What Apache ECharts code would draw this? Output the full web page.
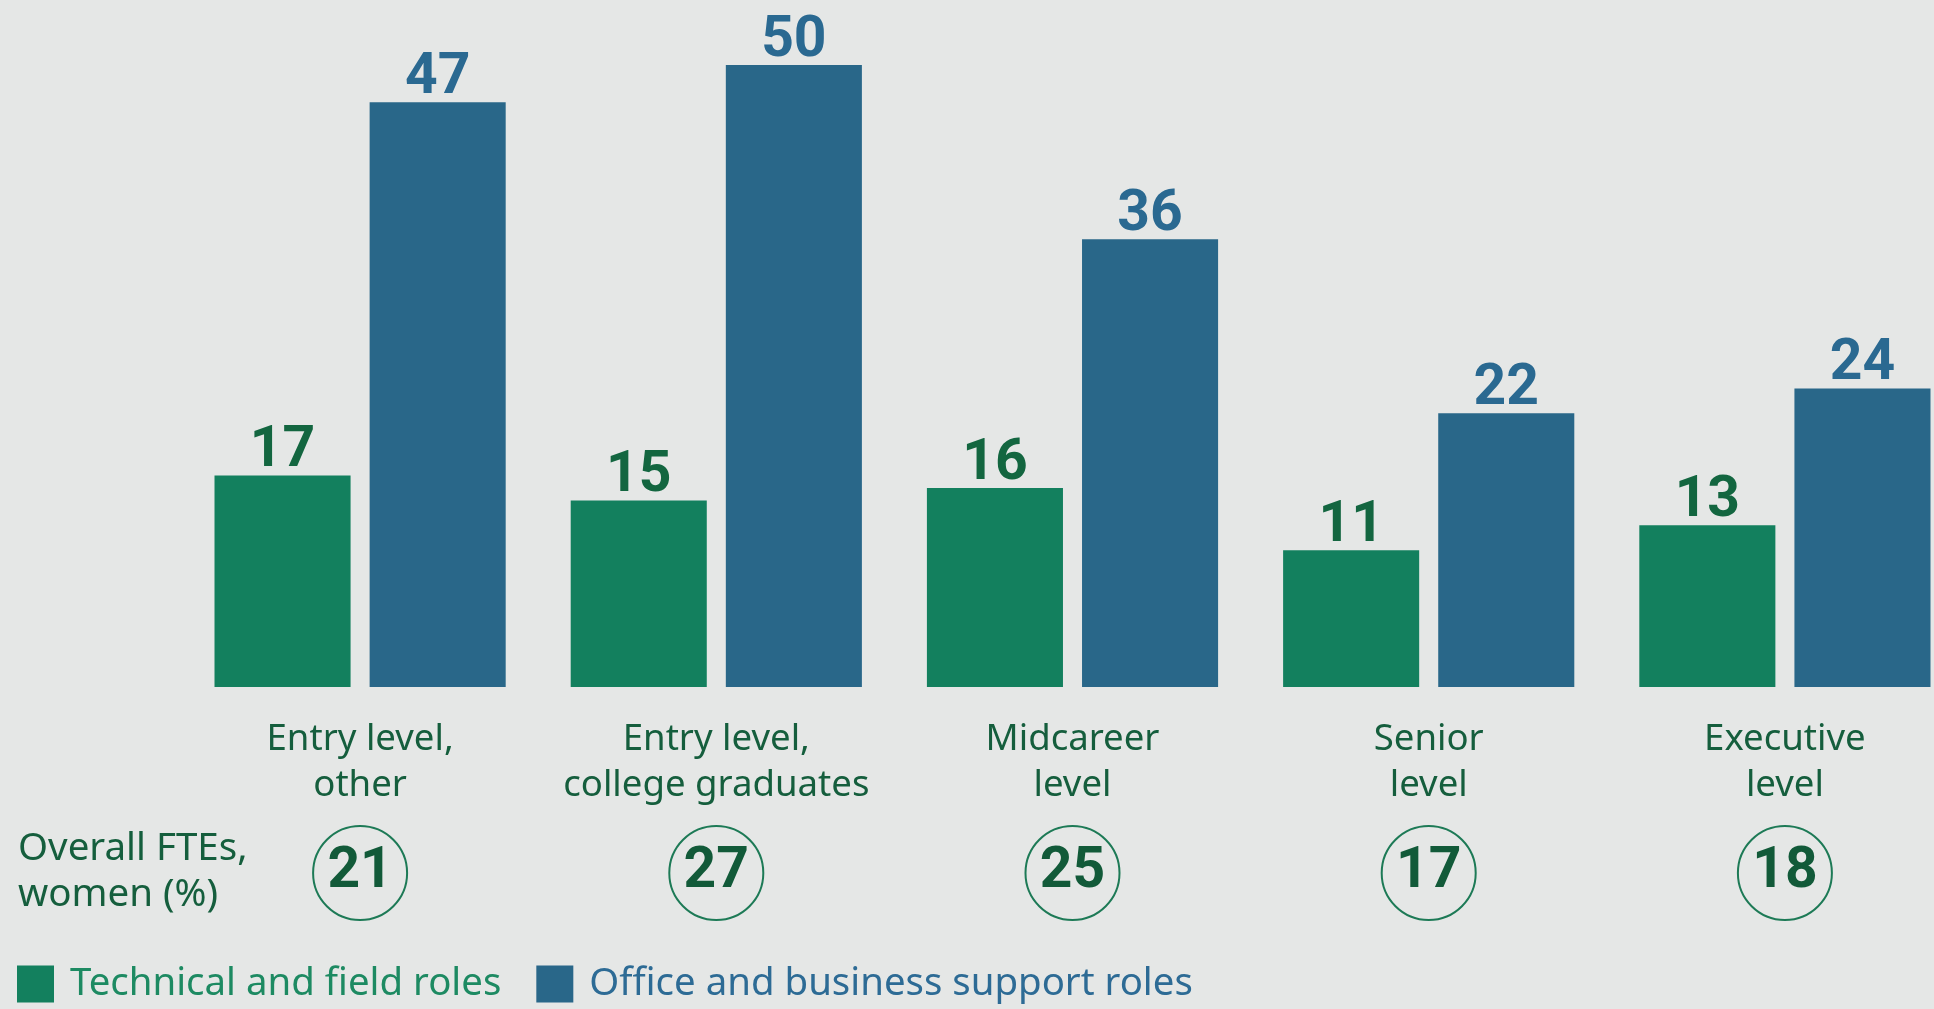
<!DOCTYPE html>
<html>
<head>
<meta charset="utf-8">
<script src="https://cdn.jsdelivr.net/npm/echarts@6/dist/echarts.min.js"></script>
<style>
  html, body { margin: 0; padding: 0; background: #e5e7e6; }
  #chart { width: 1934px; height: 1009px; }
</style>
</head>
<body>
<div id="chart"></div>
<script>
  // levels along the bottom
  const categories = [
    'Entry level,\nother',
    'Entry level,\ncollege graduates',
    'Midcareer\nlevel',
    'Senior\nlevel',
    'Executive\nlevel'
  ];
  const technicalRoles = [17, 15, 16, 11, 13];
  const officeRoles = [47, 50, 36, 22, 24];
  // women share of all FTEs, shown in the circles
  const overallWomen = [21, 27, 25, 17, 18];

  const green = '#13805e';
  const blue = '#296789';
  const darkGreen = '#155e3d';

  const chart = echarts.init(document.getElementById('chart'));

  const option = {
    backgroundColor: '#e5e7e6',
    animation: false,
    title: {
      text: 'Overall FTEs,\nwomen (%)',
      left: 18,
      top: 826,
      padding: 0,
      textStyle: {
        fontFamily: 'Noto Sans',
        fontWeight: 'normal',
        fontSize: 38.5,
        lineHeight: 46,
        color: darkGreen
      }
    },
    legend: {
      left: 17,
      top: 965,
      padding: 0,
      itemWidth: 37,
      itemHeight: 37,
      itemGap: 35,
      icon: 'rect',
      textStyle: { fontFamily: 'Noto Sans', fontSize: 38.4, padding: [0, 0, 0, 11] },
      data: [
        { name: 'Technical and field roles', textStyle: { color: '#1d8a62' } },
        { name: 'Office and business support roles', textStyle: { color: '#2d6b95' } }
      ]
    },
    grid: [
      { left: 182, width: 1781, top: 65, bottom: 322, outerBoundsMode: 'none' },
      { left: 182, width: 1781, top: 826, height: 94, outerBoundsMode: 'none' }
    ],
    xAxis: [
      {
        type: 'category',
        gridIndex: 0,
        data: categories,
        axisLine: { show: false },
        axisTick: { show: false },
        axisLabel: {
          margin: 30,
          fontFamily: 'Noto Sans',
          fontSize: 36.6,
          lineHeight: 46,
          color: darkGreen,
          interval: 0
        }
      },
      {
        type: 'category',
        gridIndex: 1,
        data: categories,
        show: false
      }
    ],
    yAxis: [
      { type: 'value', gridIndex: 0, min: 0, max: 50, show: false },
      { type: 'value', gridIndex: 1, min: -1, max: 1, show: false }
    ],
    series: [
      {
        name: 'Technical and field roles',
        type: 'bar',
        xAxisIndex: 0,
        yAxisIndex: 0,
        data: technicalRoles,
        barWidth: '38.2%',
        barGap: '14%',
        itemStyle: { color: green },
        label: {
          show: true,
          position: 'top',
          distance: -5,
          fontFamily: 'Roboto',
          fontWeight: 'bold',
          fontSize: 57,
          color: '#136640'
        }
      },
      {
        name: 'Office and business support roles',
        type: 'bar',
        xAxisIndex: 0,
        yAxisIndex: 0,
        data: officeRoles,
        barWidth: '38.2%',
        itemStyle: { color: blue },
        label: {
          show: true,
          position: 'top',
          distance: -5,
          fontFamily: 'Roboto',
          fontWeight: 'bold',
          fontSize: 57,
          color: '#2a6991'
        }
      },
      {
        name: 'overall',
        type: 'scatter',
        xAxisIndex: 1,
        yAxisIndex: 1,
        data: overallWomen.map((v, i) => [i, 0, v]),
        symbol: 'circle',
        symbolSize: 94,
        itemStyle: {
          color: 'rgba(0,0,0,0)',
          borderColor: '#1d7a56',
          borderWidth: 2,
          opacity: 1
        },
        label: {
          show: true,
          position: 'inside',
          formatter: p => p.value[2],
          fontFamily: 'Roboto',
          fontWeight: 'bold',
          fontSize: 57,
          color: '#125a39'
        },
        emphasis: { disabled: true }
      }
    ]
  };

  chart.setOption(option);
</script>
</body>
</html>
